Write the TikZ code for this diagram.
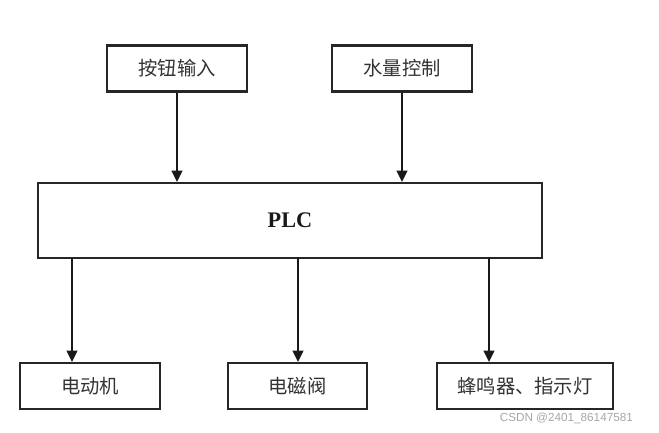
\documentclass[tikz,border=0pt]{standalone}
\usepackage{fontspec}
\setmainfont{Liberation Serif}
\newfontfamily\cjk{Noto Sans CJK SC}
\newfontfamily\wmfont{Liberation Sans}
\usetikzlibrary{arrows.meta,positioning}

\begin{document}
\begin{tikzpicture}[
		x=0.03cm, y=-0.03cm,
		>={Triangle[length=3.4mm,width=3.3mm]},
		unit/.style ={rectangle,draw=black!85,line width=1.9pt,minimum height=46*0.03cm,inner sep=0pt,text=black!80,font=\cjk\fontsize{16.5}{18}\selectfont},
		ctrl/.style ={rectangle,draw=black!85,line width=1.9pt,minimum width=504*0.03cm,minimum height=75*0.03cm,inner sep=0pt,text=black!90,font=\bfseries\fontsize{19}{22}\selectfont},
		link/.style ={draw=black!90,->,line width=1.3pt}
		]
		\useasboundingbox (0,0) rectangle (659,433);

		% ---- inputs ----
		\node[unit,minimum width=140*0.03cm] (btn)   at (177, 68.5) {按钮输入};
		\node[unit,minimum width=140*0.03cm] (water) at (402, 68.5) {水量控制};

		% ---- controller ----
		\node[ctrl] (plc) at (290, 220.5) {PLC};

		% ---- outputs ----
		\node[unit,minimum width=140*0.03cm] (motor) at (90, 386)    {电动机};
		\node[unit,minimum width=139*0.03cm] (valve) at (297.5, 386) {电磁阀};
		\node[unit,minimum width=176*0.03cm] (alarm) at (525, 386)   {蜂鸣器、指示灯};

		% ---- output taps on the PLC bottom edge ----
		\coordinate (tmotor) at (72, 258);
		\coordinate (tvalve) at (298, 258);
		\coordinate (talarm) at (489, 258);

		% ---- inputs -> PLC ----
		\draw[link] (btn)   -- (btn |- plc.north);
		\draw[link] (water) -- (water |- plc.north);

		% ---- PLC -> outputs ----
		\draw[link] (tmotor) -- (tmotor |- motor.north);
		\draw[link] (tvalve) -- (tvalve |- valve.north);
		\draw[link] (talarm) -- (talarm |- alarm.north);

		% ---- watermark ----
		\node[font=\wmfont\fontsize{10}{12}\selectfont,text=gray!70,anchor=east] (mark) at (637, 418) {CSDN @2401\_86147581};

	\end{tikzpicture}
\end{document}
